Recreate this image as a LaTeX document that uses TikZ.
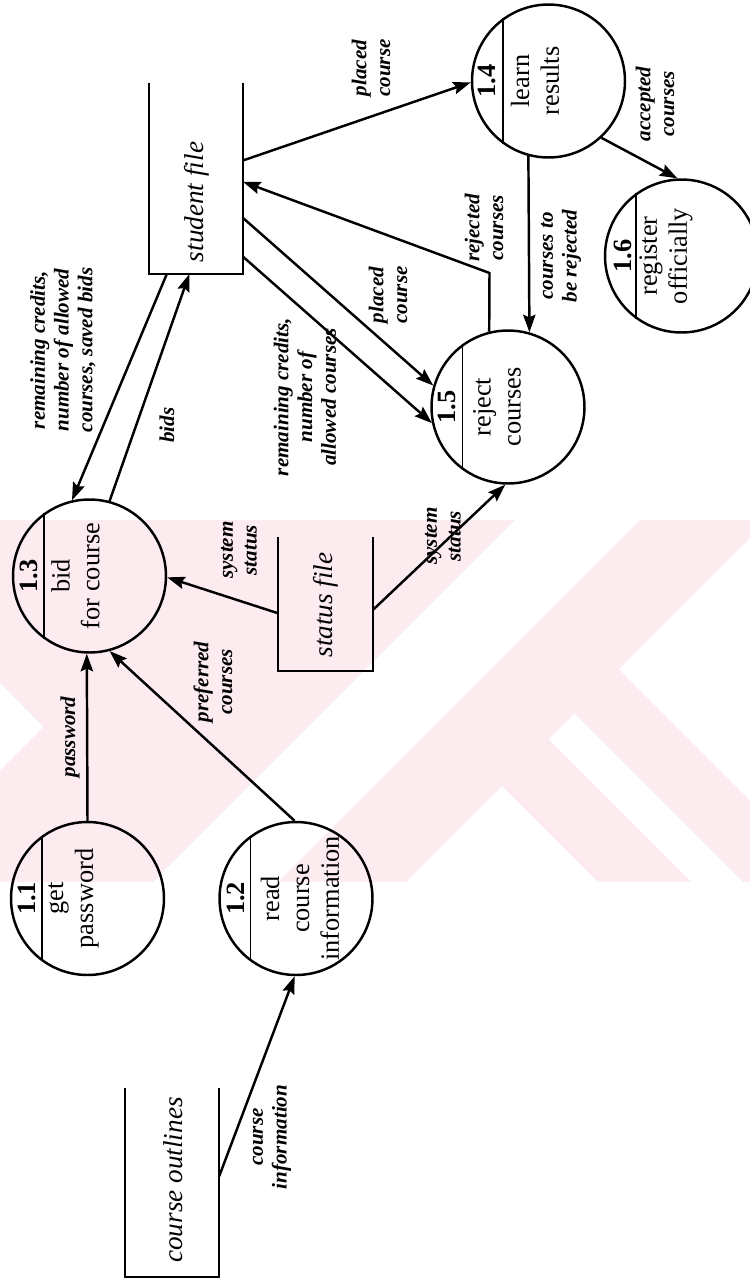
\documentclass[tikz,border=0pt]{standalone}
\usepackage{fontspec}
\setmainfont{Liberation Serif}
\usetikzlibrary{arrows.meta}
\definecolor{wmpink}{RGB}{252,235,239}

\begin{document}
\begin{tikzpicture}[x=0.02cm,y=-0.02cm,
        proc/.style={shape=circle,draw=black,line width=1.4pt,minimum size=3.06cm,inner sep=0pt},
        store/.style={shape=rectangle,inner sep=0pt,outer sep=0pt},
        flow/.style={line width=1.4pt,-{Stealth[length=10pt,width=7pt,inset=1.5pt]}},
        lbl/.style={rotate=90,align=center,inner sep=0pt,font=\fontsize{12}{13.5}\selectfont\bfseries\itshape},
        sname/.style={rotate=90,inner sep=0pt,font=\fontsize{15.5}{17}\selectfont\itshape},
        num/.style={rotate=90,inner sep=0pt,font=\fontsize{15}{17}\selectfont\bfseries},
        pname/.style={rotate=90,align=center,inner sep=0pt,font=\fontsize{15}{17}\selectfont}]
        \useasboundingbox (0,0) rectangle (750,1278);
        % watermark in the back
        \fill[wmpink] (0,520) rectangle (750,882);
        \fill[white] (0,683) -- (43,727) -- (0,770) -- cycle;
        \fill[white] (153,882) -- (515,520) -- (640,520) -- (278,882) -- cycle;
        \fill[white] (406,882) -- (502,786) -- (598,882) -- cycle;
        \fill[white] (549,739) -- (574.5,713.5) -- (743,882) -- (692,882) -- cycle;
        \fill[white] (619,669) -- (750,538) -- (750,800) -- cycle;

        % processes
        \node[proc] (p11) at (87.5,898.5) {};
        \node[proc] (p12) at (296,898.5) {};
        \node[proc] (p13) at (89.5,576) {};
        \node[proc] (p14) at (548.5,81) {};
        \node[proc] (p15) at (508,407) {};
        \node[proc] (p16) at (681.5,256) {};
        \draw[line width=0.8pt] (p11.126) -- (p11.234);
        \draw[line width=0.8pt] (p12.126) -- (p12.234);
        \draw[line width=0.8pt] (p13.126) -- (p13.234);
        \draw[line width=0.8pt] (p14.126) -- (p14.234);
        \draw[line width=0.8pt] (p15.126) -- (p15.234);
        \draw[line width=0.8pt] (p16.126) -- (p16.234);
        \node[num] at (26.5,898.5) {1.1};
        \node[pname] at (73.5,898.5) {get\\password};
        \node[num] at (236,898.5) {1.2};
        \node[pname] at (300,898.5) {read\\course\\information};
        \node[num] at (28.5,576) {1.3};
        \node[pname] at (75.5,576) {bid\\for course};
        \node[num] at (487,81) {1.4};
        \node[pname] at (535,81) {learn\\results};
        \node[num] at (447,407) {1.5};
        \node[pname] at (497,407) {reject\\courses};
        \node[num] at (623,256) {1.6};
        \node[pname] at (666,256) {register\\officially};

        % data stores
        \node[store,minimum width=1.88cm,minimum height=3.82cm] (sf) at (196,178.5) {};
        \draw[line width=1.4pt] (sf.north west) |- (sf.south east) -- (sf.north east);
        \node[sname] at (197,202) {student file};
        \node[store,minimum width=1.9cm,minimum height=2.68cm] (stat) at (325.5,604) {};
        \draw[line width=1.4pt] (stat.north west) |- (stat.south east) -- (stat.north east);
        \node[sname] at (325.5,605) {status file};
        \node[store,minimum width=1.88cm,minimum height=3.78cm] (co) at (172,1182.5) {};
        \draw[line width=1.4pt] (co.north west) |- (co.south east) -- (co.north east);
        \node[sname] at (173,1180) {course outlines};

        % flows
        \draw[flow] (sf.21) -- (p14.181);
        \coordinate (rc) at (489.5,273);
        \draw[flow] (p15.104) -- (rc) -- (sf.-4);
        \draw[flow] (p14.255) -- (p15.74);
        \draw[flow] (p14.-47) -- (p16.93);
        \draw[flow] (sf.-40) -- (p15.164);
        \draw[flow] (sf.-59) -- (p15.192);
        \draw[flow] (sf.253) -- (p13.103);
        \draw[flow] (p13.75) -- (sf.266);
        \draw[flow] (stat.191) -- (p13.-1);
        \draw[flow] (stat.-7) -- (p15.268);
        \draw[flow] (p11.90) -- (p13.268);
        \draw[flow] (p12.91) -- (p13.-75);
        \draw[flow] (co.7) -- (p12.269);

        \node[lbl] at (371,68) {placed\\course};
        \node[lbl] at (484,228) {rejected\\courses};
        \node[lbl] at (561,256) {courses to\\be rejected};
        \node[lbl] at (655,104) {accepted\\courses};
        \node[lbl] at (388,295) {placed\\course};
        \node[lbl] at (305,397) {remaining credits,\\number of\\allowed courses};
        \node[lbl] at (63,350) {remaining credits,\\number of allowed\\courses, saved bids};
        \node[lbl] at (167,425) {bids};
        \node[lbl] at (239,550) {system\\status};
        \node[lbl] at (443,536) {system\\status};
        \node[lbl] at (70,737) {password};
        \node[lbl] at (213,682) {preferred\\courses};
        \node[lbl] at (272,1137) {course\\information};
\end{tikzpicture}
\end{document}
